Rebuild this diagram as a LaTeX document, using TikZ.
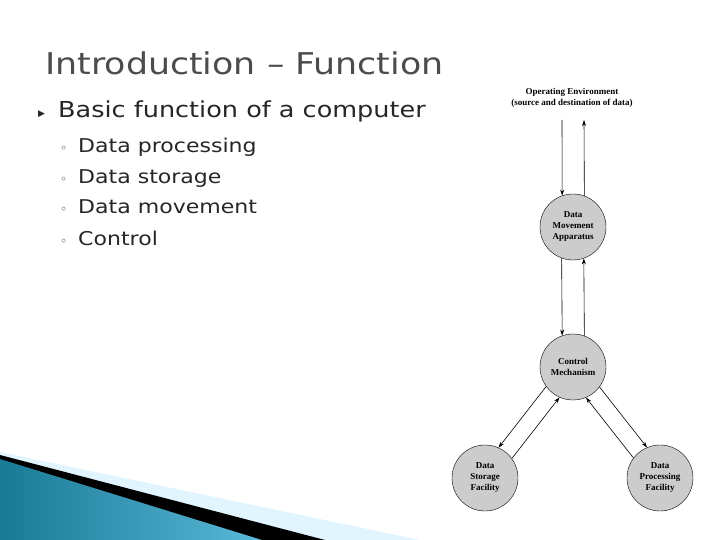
\documentclass[tikz,border=0pt]{standalone}
\usepackage{fontspec}
\usepackage{graphicx}
\setmainfont{DejaVu Sans}
\newfontfamily\serifb{Liberation Serif}
\usetikzlibrary{arrows.meta}
\definecolor{tealdark}{HTML}{1A7A95}
\definecolor{teallight}{HTML}{5AB8D8}
\begin{document}
\begin{tikzpicture}[x=1pt,y=-1pt,
  blob/.style={circle,draw,fill=gray!40,minimum size=66pt,inner sep=0pt,align=center,font=\serifb\bfseries\fontsize{9}{11}\selectfont},
  conn/.style={-{Stealth[length=6pt,width=4pt]},semithick},
  slidetext/.style={anchor=base west,text=black!85,inner sep=0pt}]
\useasboundingbox (0,0) rectangle (720,540);
% decoration
\fill[cyan!12!white] (0,452) -- (420,540) -- (0,540) -- cycle;
\fill[black] (0,455) -- (325,540) -- (0,540) -- cycle;
\shade[left color=tealdark, right color=teallight] (0,459) -- (262,540) -- (0,540) -- cycle;
% text
\node[slidetext,text=black!70,font=\fontsize{30}{34}\selectfont] (title) at (45,75) {\scalebox{1.16}[1]{Introduction – Function}};
\node[slidetext,font=\fontsize{9}{10}\selectfont] (b0) at (38,117) {▶};
\node[slidetext,font=\fontsize{22}{26}\selectfont] (t0) at (58,118) {\scalebox{1.16}[1]{Basic function of a computer}};
\foreach \y/\t [count=\i] in {153/Data processing,184/Data storage,214/Data movement,245/Control}{
  \node[slidetext,font=\fontsize{12}{14}\selectfont] (s\i) at (60,\y) {◦};
  \node[slidetext,font=\fontsize{19}{22}\selectfont] (t\i) at (78,\y) {\scalebox{1.16}[1]{\t}};
}
% diagram
\node[font=\serifb\bfseries\fontsize{9}{11}\selectfont,align=center] (env) at (572,98) {Operating Environment\\(source and destination of data)};
\node[blob] (dma) at (573,227) {Data\\Movement\\Apparatus};
\node[blob] (ctl) at (573,367) {Control\\Mechanism};
\node[blob] (dsf) at (485,478) {Data\\Storage\\Facility};
\node[blob] (dpf) at (660,478) {Data\\Processing\\Facility};
\coordinate (e1) at (562,120);
\coordinate (e2) at (584,120);
\draw[conn] (e1) -- (dma.109.5);
\draw[conn] (dma.70.5) -- (e2);
\draw[conn] (dma.250.5) -- (ctl.109.5);
\draw[conn] (ctl.70.5) -- (dma.289.5);
\draw[conn] (ctl.216.6) -- (dsf.66.6);
\draw[conn] (dsf.36.6) -- (ctl.246.6);
\draw[conn] (ctl.323.1) -- (dpf.113.1);
\draw[conn] (dpf.143.1) -- (ctl.293.1);
\end{tikzpicture}
\end{document}
